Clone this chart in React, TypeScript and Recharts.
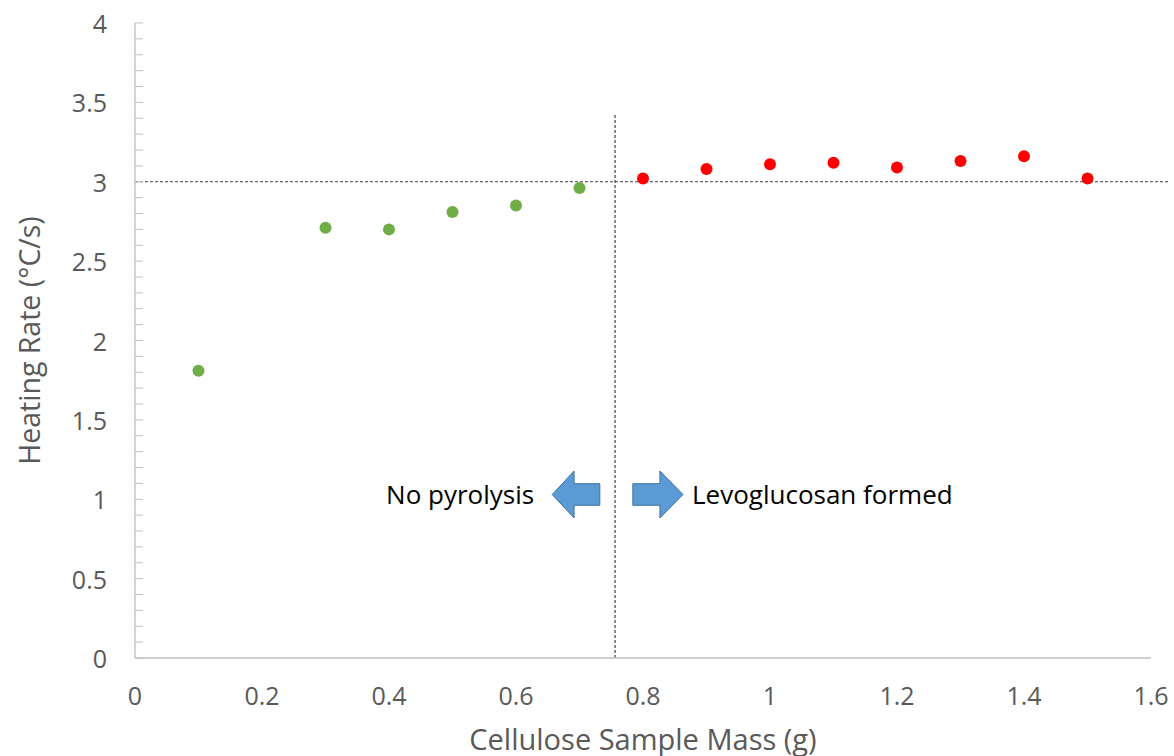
import React from 'react';
import { ScatterChart, Scatter, XAxis, YAxis, ReferenceLine, ReferenceArea } from 'recharts';

// Samples below the threshold (no pyrolysis)
const lowMass = [0.1, 0.3, 0.4, 0.5, 0.6, 0.7];
const lowRate = [1.81, 2.71, 2.7, 2.81, 2.85, 2.96];
// Samples above the threshold (levoglucosan formed)
const highMass = [0.8, 0.9, 1.0, 1.1, 1.2, 1.3, 1.4, 1.5];
const highRate = [3.02, 3.08, 3.11, 3.12, 3.09, 3.13, 3.16, 3.02];

const xTicks = [0, 0.2, 0.4, 0.6, 0.8, 1, 1.2, 1.4, 1.6];
const yMajorTicks = [0, 0.5, 1, 1.5, 2, 2.5, 3, 3.5, 4];
const yAllTicks = [
  0, 0.1, 0.2, 0.3, 0.4, 0.5, 0.6, 0.7, 0.8, 0.9,
  1, 1.1, 1.2, 1.3, 1.4, 1.5, 1.6, 1.7, 1.8, 1.9,
  2, 2.1, 2.2, 2.3, 2.4, 2.5, 2.6, 2.7, 2.8, 2.9,
  3, 3.1, 3.2, 3.3, 3.4, 3.5, 3.6, 3.7, 3.8, 3.9, 4,
];

const thresholdRate = 3;
const thresholdMass = 0.756;
const thresholdLineTop = 3.42;
const rateLineEnd = 1.63;

const leftArrowX = [0.657, 0.732];
const rightArrowX = [0.784, 0.863];
const arrowY = [0.882, 1.178];

const lowData = lowMass.map((x, i) => ({ x, y: lowRate[i] }));
const highData = highMass.map((x, i) => ({ x, y: highRate[i] }));

const GRAY = '#595959';

const YTick = (props: any) => {
  const { x, y, payload } = props;
  const v = payload.value;
  const isMajor = yMajorTicks.some((t) => Math.abs(t - v) < 1e-6);
  return (
    <g>
      <line x1={x + 28} x2={x + 36} y1={y} y2={y} stroke="#BFBFBF" strokeWidth={1} />
      {isMajor && (
        <text x={x} y={y} textAnchor="end" dominantBaseline="central" fill={GRAY} fontSize={25}>
          {String(v)}
        </text>
      )}
    </g>
  );
};

const makeDot = (color: string) => (props: any) => (
  <circle cx={props.cx} cy={props.cy} r={6} fill={color} />
);

const makeArrow = (dir: 'left' | 'right') => (props: any) => {
  const { x, y, width: w, height: h } = props;
  const hl = w * 0.46;
  const t = y + h * 0.27;
  const b = y + h * 0.73;
  let pts: number[][];
  if (dir === 'left') {
    pts = [
      [x, y + h / 2], [x + hl, y], [x + hl, t], [x + w, t],
      [x + w, b], [x + hl, b], [x + hl, y + h],
    ];
  } else {
    pts = [
      [x + w, y + h / 2], [x + w - hl, y], [x + w - hl, t], [x, t],
      [x, b], [x + w - hl, b], [x + w - hl, y + h],
    ];
  }
  return (
    <polygon
      points={pts.map((p) => p.join(',')).join(' ')}
      fill="#5B9BD5"
      stroke="#41719C"
      strokeWidth={1}
    />
  );
};

const YTitle = (props: any) => {
  const vb = props.viewBox;
  const cy = vb.y + vb.height / 2;
  const cx = 29;
  return (
    <text
      x={cx}
      y={cy}
      transform={`rotate(-90, ${cx}, ${cy})`}
      textAnchor="middle"
      dominantBaseline="central"
      fill={GRAY}
      fontSize={28.5}
    >
      Heating Rate (°C/s)
    </text>
  );
};

const XTitle = (props: any) => {
  const vb = props.viewBox;
  const cx = vb.x + vb.width / 2;
  return (
    <text x={cx} y={738} textAnchor="middle" dominantBaseline="central" fill={GRAY} fontSize={29}>
      Cellulose Sample Mass (g)
    </text>
  );
};

export default function App() {
  return (
    <div style={{ position: 'absolute', left: 0, top: 0, fontFamily: 'Open Sans', background: '#fff' }}>
      <ScatterChart width={1174} height={756} margin={{ top: 23, right: 23, left: 0, bottom: 0 }}>
        <XAxis
          type="number"
          dataKey="x"
          domain={[0, 1.6]}
          ticks={xTicks}
          allowDataOverflow
          height={98}
          tickLine={false}
          tickSize={0}
          tickMargin={29}
          axisLine={{ stroke: '#BFBFBF', strokeWidth: 1.3 }}
          tick={{ fill: GRAY, fontSize: 25 }}
          label={<XTitle />}
        />
        <YAxis
          type="number"
          dataKey="y"
          domain={[0, 4]}
          ticks={yAllTicks}
          interval={0}
          allowDataOverflow
          width={135}
          tickLine={false}
          tickSize={0}
          tickMargin={28}
          axisLine={{ stroke: '#BFBFBF', strokeWidth: 1.3 }}
          tick={<YTick />}
          label={<YTitle />}
        />
        <ReferenceLine
          segment={[{ x: 0, y: thresholdRate }, { x: rateLineEnd, y: thresholdRate }]}
          ifOverflow="visible"
          stroke="#404040"
          strokeWidth={1.2}
          strokeDasharray="3 2"
        />
        <ReferenceLine
          segment={[{ x: thresholdMass, y: 0 }, { x: thresholdMass, y: thresholdLineTop }]}
          ifOverflow="visible"
          stroke="#404040"
          strokeWidth={1.2}
          strokeDasharray="3 2"
        />
        <ReferenceArea
          x1={leftArrowX[0]}
          x2={leftArrowX[1]}
          y1={arrowY[0]}
          y2={arrowY[1]}
          shape={makeArrow('left')}
          label={{ value: 'No pyrolysis', position: 'left', offset: 18, fill: '#000', fontSize: 26 }}
        />
        <ReferenceArea
          x1={rightArrowX[0]}
          x2={rightArrowX[1]}
          y1={arrowY[0]}
          y2={arrowY[1]}
          shape={makeArrow('right')}
          label={{ value: 'Levoglucosan formed', position: 'right', offset: 9, fill: '#000', fontSize: 26 }}
        />
        <Scatter data={lowData} fill="#70AD47" isAnimationActive={false} shape={makeDot('#70AD47')} />
        <Scatter data={highData} fill="#FF0000" isAnimationActive={false} shape={makeDot('#FF0000')} />
      </ScatterChart>
    </div>
  );
}
